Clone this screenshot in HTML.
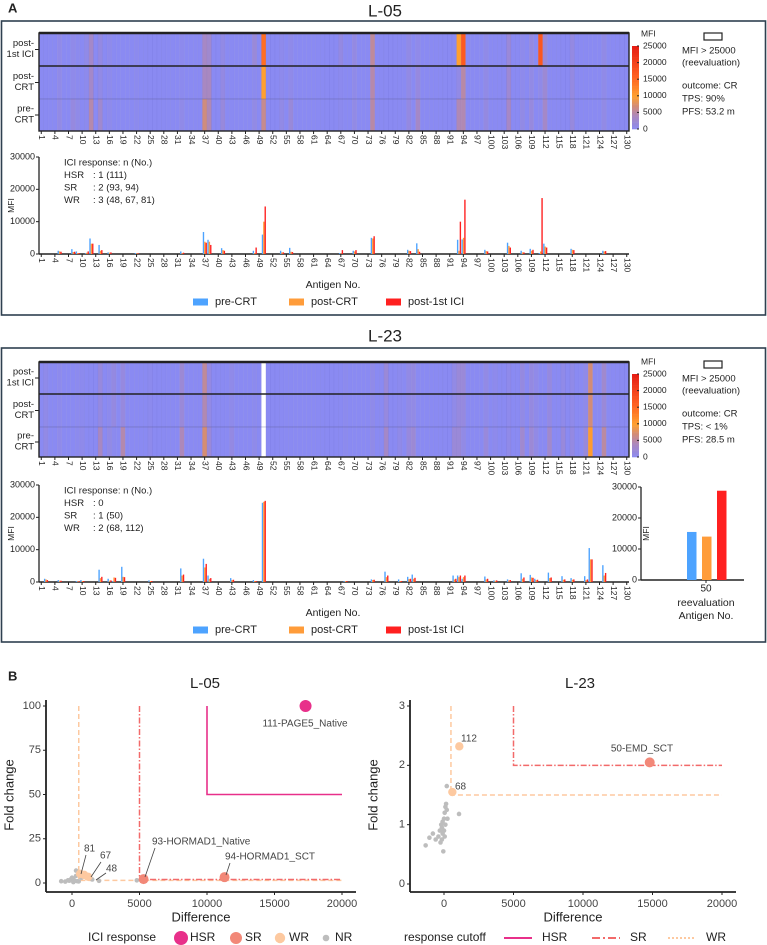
<!DOCTYPE html>
<html><head><meta charset="utf-8">
<style>
html,body{margin:0;padding:0;background:#fff;}
svg{display:block;font-family:"Liberation Sans",Arial,sans-serif;}
</style></head>
<body>
<svg id="fig" width="767" height="945" viewBox="0 0 767 945" xmlns="http://www.w3.org/2000/svg"></svg>
<script>
// ---------- Data: L-05 ----------
const antigen05 = [5,8,9,11,12,14,16,22,32,37,38,41,48,50,54,56,67,70,74,82,84,93,94,99,104,107,109,111,112,118,125];
const pre05  = [1000,1500,800,200,4800,2800,500,300,800,6800,4400,1800,1000,6000,1000,1900,300,1000,5000,1300,3300,4400,4500,1300,3500,1000,1600,300,3200,1600,1000];
const post05 = [800,600,300,400,3200,1000,400,200,300,3800,3800,1200,300,10000,500,700,200,800,4800,1000,1500,1000,5000,900,2500,500,1000,800,2300,1300,800];
const ici05  = [700,700,300,800,3200,1200,500,200,400,3500,2800,1000,2000,14700,500,600,1200,1200,5500,900,700,10000,16800,800,2000,500,1300,17300,2000,1200,900];
// ---------- Data: L-23 ----------
const antigen23 = [2,5,9,10,14,16,17,19,25,32,37,38,43,48,50,68,74,77,80,82,83,92,93,94,99,101,104,107,109,110,113,116,118,121,122,125];
const pre23  = [1000,600,300,600,3800,1000,300,4700,500,4200,7200,2000,1200,600,24500,300,800,3200,800,1600,2300,2000,2000,1000,1700,500,800,2700,2200,1000,2900,1800,1200,1800,10500,5200];
const post23 = [800,400,200,300,1200,400,1400,1600,300,2000,4500,1000,600,300,24800,300,600,1500,300,900,1000,800,1500,1500,800,400,500,1000,1400,600,1200,700,700,600,7000,2000];
const ici23  = [600,400,200,300,1600,500,1300,1500,300,2300,5600,1200,700,300,25100,300,700,2000,300,1000,1300,1000,2000,2000,1000,500,600,1400,1300,700,1400,800,800,800,7000,2800];
const reeval23 = [50];
const reevalLabels = ["50"];
const reevalPre = [15500];
const reevalPost = [14000];
const reevalIci = [28800];
const mfiTicks = [0,10000,20000,30000];
const cbTicks = [0,5000,10000,15000,20000,25000];
// ---------- Scatter data ----------
const names05 = ["111-PAGE5_Native","93-HORMAD1_Native","94-HORMAD1_SCT","81","67","48"];
const diff05  = [17300,5300,11300,600,900,1200];
const fc05    = [100,2.2,3.3,5.2,4.6,3.5];
const cls05   = ["HSR","SR","SR","WR","WR","WR"];
const nrDiff05 = [-800,-500,-300,-100,0,100,200,300,400,500,100,-200,4800,2000,1500,700,300];
const nrFc05   = [1,0.8,1.5,2,3,2.5,1.2,7,1,0.9,0.5,1.3,1.5,1.2,2,3,4];
const names23 = ["112","50-EMD_SCT","68"];
const diff23  = [1100,14800,600];
const fc23    = [2.32,2.05,1.55];
const cls23   = ["WR","SR","WR"];
const nrDiff23 = [-1320,-1050,-800,-600,-400,-300,-250,-200,-150,-100,-50,0,0,50,100,100,150,200,200,250,-150,-100,50,1080];
const nrFc23   = [0.65,0.78,0.85,0.75,0.8,0.9,0.7,1.0,0.95,1.05,0.55,1.1,0.9,1.2,1.3,1.0,1.35,1.25,1.65,1.1,0.75,0.85,0.8,1.18];
const xTicksSc = [0,5000,10000,15000,20000];
const yTicks05 = [0,25,50,75,100];
const yTicks23 = [0,1,2,3];

const NS="http://www.w3.org/2000/svg";
const svg=document.getElementById('fig');
function mk(tag,attrs,parent,text){const e=document.createElementNS(NS,tag);for(const k in attrs)e.setAttribute(k,attrs[k]);if(text!==undefined)e.textContent=text;(parent||svg).appendChild(e);return e;}
function grp(name,parent){const g=mk('g',{},parent);return g;}

const C_PRE="#4da3ff",C_POST="#ff9c3a",C_ICI="#ff2020";
function lerp(a,b,t){return Math.round(a+(b-a)*t);}
const stops=[[0,[138,138,242]],[4000,[170,136,190]],[7000,[210,140,120]],[10000,[255,160,48]],[16000,[255,96,32]],[25000,[230,30,20]]];
function heatColor(v){v=Math.max(0,Math.min(25000,v));for(let i=1;i<stops.length;i++){if(v<=stops[i][0]){const a=stops[i-1],b=stops[i];const t=(v-a[0])/(b[0]-a[0]);return `rgb(${lerp(a[1][0],b[1][0],t)},${lerp(a[1][1],b[1][1],t)},${lerp(a[1][2],b[1][2],t)})`;}}return "rgb(230,30,20)";}

function txt(parent,x,y,s,size,opts){opts=opts||{};const t=mk('text',Object.assign({x:x,y:y,'font-size':size,fill:opts.fill||'#222','text-anchor':opts.anchor||'start','dominant-baseline':'middle'},opts.extra||{}),parent,s);return t;}

function panel(cfg){
  const P=grp(cfg.name);
  txt(P,385,cfg.titleY,cfg.title,17,{anchor:'middle',name:'panel-title'});
  const box=mk('rect',{x:1.5,y:cfg.boxY,width:764,height:cfg.boxH,fill:'none',stroke:'#2f4050','stroke-width':1.6},P);
  
  const x0=39,x1=629,n=130,w=(x1-x0)/n;
  const ax=i=>x0+(i-1)*w;
  const lookup=(arr,vals,i)=>{const k=arr.indexOf(i);return k<0?0:vals[k];};
  const H=grp('heatmap',P);
  const rows=[[cfg.ici,cfg.hy0,cfg.hyA],[cfg.post,cfg.hyA,cfg.hyB],[cfg.pre,cfg.hyB,cfg.hy1]];
  rows.forEach((r)=>{
    for(let i=1;i<=n;i++){
      let col=heatColor(lookup(cfg.ant,r[0],i));
      if(cfg.reeval.indexOf(i)>=0)col='#ffffff';
      const c=mk('rect',{x:ax(i),y:r[1],width:w+0.05,height:r[2]-r[1],fill:col,stroke:'rgba(100,100,190,0.18)','stroke-width':0.4},H);
      
    }
  });
  mk('line',{x1:x0,x2:x1,y1:cfg.hyB,y2:cfg.hyB,stroke:'rgba(80,80,120,0.25)','stroke-width':1},H);
  mk('line',{x1:x0,x2:x1,y1:cfg.hyA,y2:cfg.hyA,stroke:'#222','stroke-width':1.6},H);
  mk('rect',{x:x0,y:cfg.hy0,width:x1-x0,height:cfg.hy1-cfg.hy0,fill:'none',stroke:'#222','stroke-width':1.4},H);
  mk('line',{x1:x0,x2:x1,y1:cfg.hy0,y2:cfg.hy0,stroke:'#222','stroke-width':2.4},H);
  const rl=[["post-","1st ICI",(cfg.hy0+cfg.hyA)/2],["post-","CRT",(cfg.hyA+cfg.hyB)/2],["pre-","CRT",(cfg.hyB+cfg.hy1)/2]];
  rl.forEach(r=>{txt(H,34,r[2]-6,r[0],9.5,{anchor:'end',name:'row-label'});txt(H,34,r[2]+5,r[1],9.5,{anchor:'end',name:'row-label'});mk('line',{x1:35,x2:39,y1:r[2],y2:r[2],stroke:'#222','stroke-width':1},H);});
  function xAxisLabels(yTop,parent){
    for(let i=1;i<=n;i+=3){const cx=ax(i)+w/2;mk('line',{x1:cx,x2:cx,y1:yTop,y2:yTop+3,stroke:'#222','stroke-width':1},parent);
      const t=mk('text',{x:0,y:0,'font-size':8.5,fill:'#222','dominant-baseline':'middle',transform:`translate(${cx},${yTop+4}) rotate(90)`},parent,String(i));}
  }
  xAxisLabels(cfg.hy1,H);
  const CB=grp('colorbar',P);
  const cbx=632,cbw=7;
  for(let k=0;k<60;k++){const v=25000*(1-k/60);const y=cfg.cb0+(cfg.cb1-cfg.cb0)*k/60;mk('rect',{x:cbx,y:y,width:cbw,height:(cfg.cb1-cfg.cb0)/60+0.3,fill:heatColor(v)},CB);}
  cbTicks.forEach(v=>{const y=cfg.cb1-(cfg.cb1-cfg.cb0)*v/25000;mk('line',{x1:cbx+cbw-2,x2:cbx+cbw,y1:y,y2:y,stroke:'#222'},CB);txt(CB,643,y,String(v),8.5,{name:'colorbar-tick'});});
  txt(CB,641,cfg.cb0-12,"MFI",8.5,{name:'colorbar-title'});
  const I=grp('outcome-info',P);
  const r=mk('rect',{x:704,y:cfg.cb0-13,width:18,height:7,fill:'#fff',stroke:'#222','stroke-width':1.2},I);
  
  [["MFI > 25000",5],["(reevaluation)",17],["outcome: CR",40],[cfg.tps,53],[cfg.pfs,66]].forEach(a=>txt(I,682,cfg.cb0+a[1],a[0],9.5,{name:'info-text'}));
  const B=grp('bar-chart',P);
  const y0=cfg.by0,y30=cfg.by30;const yS=v=>y0-(y0-y30)*v/30000;
  mk('line',{x1:x0,x2:x0,y1:y30,y2:y0,stroke:'#222','stroke-width':1.3},B);
  mk('line',{x1:x0,x2:x1,y1:y0,y2:y0,stroke:'#222','stroke-width':1.6},B);
  mfiTicks.forEach(v=>{mk('line',{x1:x0-3,x2:x0,y1:yS(v),y2:yS(v),stroke:'#222'},B);txt(B,x0-4,yS(v),String(v),9,{anchor:'end',name:'y-tick'});});
  const yl=mk('text',{x:0,y:0,'font-size':8.5,fill:'#222','text-anchor':'middle',transform:`translate(14,${(y0+y30)/2}) rotate(-90)`},B,"MFI");
  const bw=w/3.3;
  cfg.ant.forEach((a,k)=>{
    [[cfg.pre[k],C_PRE,0],[cfg.post[k],C_POST,1],[cfg.ici[k],C_ICI,2]].forEach(s=>{
      const b=mk('rect',{x:ax(a)+0.4+s[2]*bw,y:yS(s[0]),width:bw,height:y0-yS(s[0]),fill:s[1]},B);
      
    });
  });
  xAxisLabels(y0,B);
  txt(B,333,cfg.by0+31,"Antigen No.",10.5,{anchor:'middle',name:'x-axis-title'});
  cfg.info.forEach((s,k)=>{txt(B,64,y30+6+k*12.5,s[0],9.5,{name:'response-text'});if(s[1])txt(B,93,y30+6+k*12.5,s[1],9.5,{name:'response-text'});});
  const L=grp('legend',P);const ly=cfg.by0+48;
  [[193,C_PRE,"pre-CRT"],[289,C_POST,"post-CRT"],[386,C_ICI,"post-1st ICI"]].forEach(l=>{const sw=mk('rect',{x:l[0],y:ly-3.5,width:15,height:7,fill:l[1]},L);txt(L,l[0]+22,ly,l[2],11,{name:'legend-entry'});});
  return {P,yS};
}

panel({name:'panel-l05',title:'L-05',titleY:12,boxY:21,boxH:294,hy0:33,hyA:66,hyB:99,hy1:131,cb0:46,cb1:129,by0:254,by30:157,
  ant:antigen05,pre:pre05,post:post05,ici:ici05,reeval:[],tps:"TPS: 90%",pfs:"PFS: 53.2 m",
  info:[["ICI response: n (No.)",""],["HSR",": 1 (111)"],["SR",": 2 (93, 94)"],["WR",": 3 (48, 67, 81)"]]});
const p2=panel({name:'panel-l23',title:'L-23',titleY:337,boxY:348,boxH:294,hy0:362,hyA:394,hyB:427,hy1:457,cb0:374,cb1:457,by0:582,by30:485,
  ant:antigen23,pre:pre23,post:post23,ici:ici23,reeval:reeval23,tps:"TPS: < 1%",pfs:"PFS: 28.5 m",
  info:[["ICI response: n (No.)",""],["HSR",": 0"],["SR",": 1 (50)"],["WR",": 2 (68, 112)"]]});

(function(){
  const G=grp('reevaluation-chart',p2.P);
  const x0=641,x1=744,y0=580,y30=487;const yS=v=>y0-(y0-y30)*v/30000;
  mk('line',{x1:x0,x2:x0,y1:y30,y2:y0,stroke:'#222','stroke-width':1.3},G);
  mk('line',{x1:x0,x2:x1,y1:y0,y2:y0,stroke:'#222','stroke-width':1.6},G);
  mfiTicks.forEach(v=>{mk('line',{x1:x0-3,x2:x0,y1:yS(v),y2:yS(v),stroke:'#222'},G);txt(G,x0-4,yS(v),String(v),9,{anchor:'end',name:'y-tick'});});
  const yl=mk('text',{x:0,y:0,'font-size':8.5,fill:'#222','text-anchor':'middle',transform:`translate(649,${(y0+y30)/2}) rotate(-90)`},G,"MFI");
  reevalLabels.forEach((lab,k)=>{
    const cx=706;
    [[reevalPre[k],C_PRE,-19],[reevalPost[k],C_POST,-4],[reevalIci[k],C_ICI,11]].forEach(s=>{const b=mk('rect',{x:cx+s[2],y:yS(s[0]),width:9.5,height:y0-yS(s[0]),fill:s[1]},G);});
    mk('line',{x1:cx,x2:cx,y1:y0,y2:y0+3,stroke:'#222'},G);
    txt(G,cx,589,lab,10,{anchor:'middle',name:'x-tick'});
  });
  txt(G,706,603,"reevaluation",10.5,{anchor:'middle',name:'x-axis-title'});
  txt(G,706,616,"Antigen No.",10.5,{anchor:'middle',name:'x-axis-title'});
})();

txt(svg,8,9,"A",13,{name:'panel-letter',extra:{'font-weight':'bold'}});
txt(svg,8,677,"B",13,{name:'panel-letter',extra:{'font-weight':'bold'}});
const COL={HSR:'#e8308a',SR:'#f28878',WR:'#fdc9a0',NR:'#bdbdbd'};
const RAD={HSR:6,SR:5,WR:4.2,NR:2.3};
function scatter(cfg){
  const G=grp(cfg.name);
  const xS=d=>cfg.xz+d*cfg.xk/20000, yS=f=>cfg.y0-f*cfg.yk/cfg.ymax;
  txt(G,cfg.titleX,684,cfg.title,15,{anchor:'middle',name:'chart-title'});
  mk('line',{x1:cfg.ax0,x2:cfg.ax0,y1:700,y2:cfg.axY,stroke:'#222','stroke-width':1.8},G);
  mk('line',{x1:cfg.ax0,x2:cfg.ax1,y1:cfg.axY,y2:cfg.axY,stroke:'#222','stroke-width':1.8},G);
  xTicksSc.forEach(v=>{mk('line',{x1:xS(v),x2:xS(v),y1:cfg.axY,y2:cfg.axY+3,stroke:'#222'},G);txt(G,xS(v),904,String(v),11,{anchor:'middle',fill:'#444',name:'x-tick'});});
  cfg.yt.forEach(v=>{mk('line',{x1:cfg.ax0-3,x2:cfg.ax0,y1:yS(v),y2:yS(v),stroke:'#222'},G);txt(G,cfg.ax0-5,yS(v),String(v),11,{anchor:'end',fill:'#444',name:'y-tick'});});
  txt(G,(cfg.ax0+cfg.ax1)/2,918,"Difference",13,{anchor:'middle',name:'x-axis-title'});
  const yl=mk('text',{x:0,y:0,'font-size':13,fill:'#222','text-anchor':'middle','dominant-baseline':'middle',transform:`translate(${cfg.ax0-36},795) rotate(-90)`},G,"Fold change");
  const cut=(pts,col,dash,w,name)=>{const l=mk('polyline',{points:pts.map(p=>xS(p[0])+','+yS(p[1])).join(' '),fill:'none',stroke:col,'stroke-width':w,'stroke-dasharray':dash},G);};
  cut([[500,cfg.ymax],[500,1.5],[20000,1.5]],'#fdc9a0','5,3',1.5,'wr-cutoff');
  cut([[5000,cfg.ymax],[5000,2],[20000,2]],'#f26a6a','6,2,1.5,2',1.5,'sr-cutoff');
  if(cfg.hsr)cut([[10000,100],[10000,50],[20000,50]],'#e8308a','none',1.6,'hsr-cutoff');
  cfg.nrD.forEach((d,k)=>{const c=mk('circle',{cx:xS(d),cy:yS(cfg.nrF[k]),r:RAD.NR,fill:COL.NR},G);});
  cfg.d.forEach((d,k)=>{const c=mk('circle',{cx:xS(d),cy:yS(cfg.f[k]),r:RAD[cfg.c[k]],fill:COL[cfg.c[k]]},G);});
  cfg.labels.forEach(l=>{txt(G,l[1],l[2],l[0],10,{anchor:l[3]||'start',fill:'#444',name:'point-label'});if(l[4])mk('line',{x1:l[4][0],y1:l[4][1],x2:l[4][2],y2:l[4][3],stroke:'#444','stroke-width':0.8},G);});
  return G;
}
scatter({name:'scatter-l05',title:'L-05',titleX:205,xz:72,xk:270,y0:883,yk:177,ymax:100,ax0:46,ax1:356,axY:892,yt:yTicks05,hsr:true,
  d:diff05,f:fc05,c:cls05,nrD:nrDiff05,nrF:nrFc05,
  labels:[[names05[0],305,724,'middle'],[names05[1],152,842,'start',[155,848,145,877]],[names05[2],225,857,'start',[230,863,226,875]],[names05[3],84,849,'start',[86,855,81,874]],[names05[4],100,856,'start',[101,862,91,877]],[names05[5],106,869,'start',[106,873,96,880]]]});
scatter({name:'scatter-l23',title:'L-23',titleX:580,xz:444,xk:278,y0:884,yk:178,ymax:3,ax0:410,ax1:736,axY:892,yt:yTicks23,hsr:false,
  d:diff23,f:fc23,c:cls23,nrD:nrDiff23,nrF:nrFc23,
  labels:[[names23[0],461,739],[names23[1],642,749,'middle'],[names23[2],455,787]]});
const LB=grp('scatter-legend');
txt(LB,88,938,"ICI response",12,{name:'legend-title'});
[["HSR",181],["SR",236],["WR",280],["NR",326]].forEach(e=>{const c=mk('circle',{cx:e[1],cy:938,r:RAD[e[0]]+1,fill:COL[e[0]]},LB);txt(LB,e[1]+9,938,e[0],12,{name:'legend-entry'});});
txt(LB,404,938,"response cutoff",12,{name:'legend-title'});
[["HSR",504,'#e8308a','none'],["SR",592,'#f26a6a','8,3,2,3'],["WR",668,'#fdc9a0','2,2']].forEach(e=>{const l=mk('line',{x1:e[1],x2:e[1]+28,y1:938,y2:938,stroke:e[2],'stroke-width':2,'stroke-dasharray':e[3]},LB);txt(LB,e[1]+38,938,e[0],12,{name:'legend-entry'});});
</script>
</body></html>
